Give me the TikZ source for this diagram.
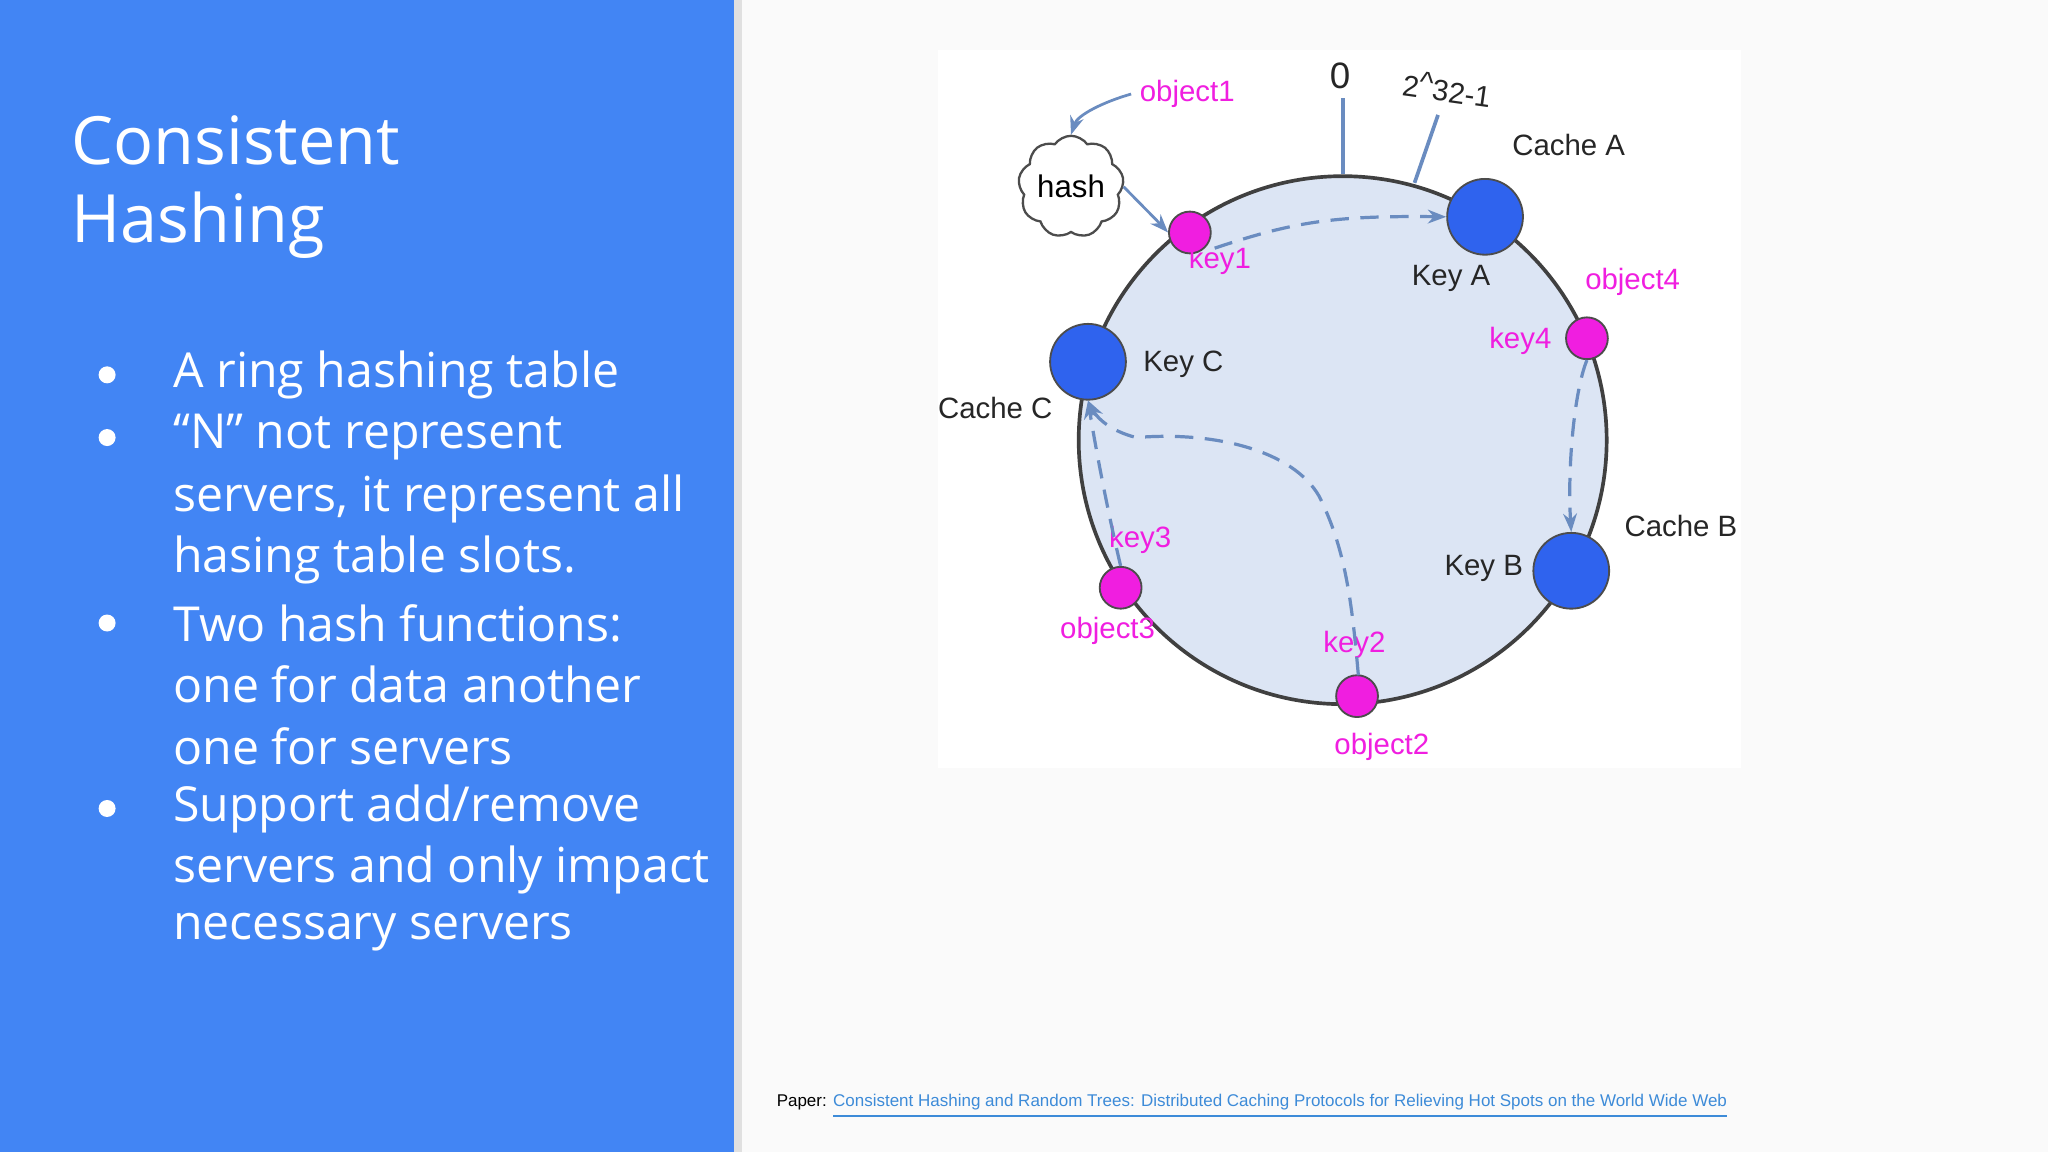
\documentclass[tikz,border=0pt]{standalone}
\usepackage{fontspec}
\setmainfont{Open Sans}
\newfontfamily\arialf{Liberation Sans}
\usetikzlibrary{shapes.symbols,arrows.meta}
\definecolor{slideblue}{HTML}{4285F4}
\definecolor{nodeblue}{HTML}{2F63EE}
\definecolor{mag}{HTML}{F01EE0}
\definecolor{ringfill}{HTML}{DCE5F4}
\definecolor{arrowc}{HTML}{6A8CC0}
\definecolor{linkc}{HTML}{3D8BD8}
\tikzset{
 cache/.style={circle,fill=nodeblue,draw=black!70,line width=0.4pt,minimum size=0.58cm,inner sep=0},
 keydot/.style={circle,fill=mag,draw=black!70,line width=0.4pt,minimum size=0.32cm,inner sep=0},
 lbl/.style={font=\arialf\fontsize{6.4}{7}\selectfont,text=black!85,inner sep=0},
 mlbl/.style={font=\arialf\fontsize{6.4}{7}\selectfont,text=mag,inner sep=0},
 dasharrow/.style={arrowc,line width=0.7pt,dash pattern=on 4pt off 2.5pt,-{Stealth[length=4pt]}},
 solidarrow/.style={arrowc,line width=0.6pt,-{Stealth[length=4pt]}},
 bullettext/.style={font=\fontsize{10.5}{13.3}\selectfont,text=white,anchor=west,inner sep=0}
}
\begin{document}
\begin{tikzpicture}[x=0.01cm,y=-0.01cm]
\useasboundingbox (0,0) rectangle (1568,882);
\fill[black!2] (0,0) rectangle (1568,882);
\fill[black!12] (562,0) rectangle (568,882);
\fill[slideblue] (0,0) rectangle (562,882);
\node[font=\fontsize{14.5}{18}\selectfont,text=white,anchor=north west,align=left,inner sep=0] (title) at (54,88) {Consistent\\[-1pt]Hashing};
\foreach \yy/\tt/\bb in {287/A ring hashing table/1,335/“N” not represent/1,382/{servers, it represent all}/0,429/hasing table slots./0,477/Two hash functions:/1,524/one for data another/0,571/one for servers/0,619/{Support add/remove}/1,666/servers and only impact/0,714/necessary servers/0}{
  \node[bullettext] at (132,\yy) {\tt};
  \ifnum\bb=1 \fill[white] (82,\yy) circle (6.5); \fi
}
% diagram area
\fill[white] (718,38) rectangle (1333,588);
\node[circle,fill=ringfill,draw=black!75,line width=0.8pt,minimum size=4.04cm,inner sep=0] (ring) at (1028,337) {};
\coordinate (t0) at (1028,75);
\draw[arrowc,line width=0.8pt] (ring.north) -- (t0);
\node[lbl,font=\arialf\fontsize{8}{9}\selectfont] (zero) at (1026,58) {0};
\coordinate (t1) at (1101,88);
\draw[arrowc,line width=0.8pt] (1083,140) -- (t1);
\node[lbl,rotate=-8] (max) at (1108,68) {2\raisebox{0.4ex}{\^{}}32-1};
\node[cache] (A) at (1137,166) {};
\node[cache] (C) at (833,277) {};
\node[cache] (B) at (1203,437) {};
\node[keydot] (k1) at (911,178) {};
\node[keydot] (k4) at (1215,259) {};
\node[keydot] (k3) at (858,450) {};
\node[keydot] (k2) at (1039,533) {};
\node[cloud,cloud puffs=9,cloud puff arc=110,aspect=1.1,draw=black!70,fill=white,line width=0.5pt,minimum width=0.8cm,minimum height=0.78cm,font=\arialf\fontsize{6.8}{8}\selectfont,inner sep=0] (hash) at (820,143) {hash};
\node[mlbl] (o1) at (909,72) {object1};
\node[lbl] at (1201,111) {Cache A};
\node[lbl] at (1111,213) {Key A};
\node[mlbl] at (1250,216) {object4};
\node[mlbl] at (1164,261) {key4};
\node[mlbl] at (934,200) {key1};
\node[lbl] at (906,279) {Key C};
\node[lbl] at (762,312) {Cache C};
\node[lbl] at (1287,403) {Cache B};
\node[lbl] at (1136,435) {Key B};
\node[mlbl] at (873,413) {key3};
\node[mlbl] at (848,483) {object3};
\node[mlbl] at (1037,494) {key2};
\node[mlbl] at (1058,572) {object2};
\draw[solidarrow] (o1.west) ++(-6,0) .. controls (845,78) and (825,88) .. (hash.north);
\draw[solidarrow] (hash.east) .. controls (872,155) and (885,168) .. (k1.west);
\draw[dasharrow] (930,190) .. controls (990,170) and (1020,165) .. (A.west);
\draw[dasharrow] (k4.south) .. controls (1205,300) and (1200,360) .. (B.north);
\draw[dasharrow] (k3.north) .. controls (850,400) and (840,350) .. (C.south);
\draw[dasharrow] (1040,517) .. controls (1035,460) and (1030,420) .. (1010,380) .. controls (990,345) and (930,330) .. (870,335) .. controls (850,330) and (840,320) .. (C.south);
% footer
\node[font=\arialf\fontsize{3.7}{4}\selectfont,anchor=west,inner sep=0] (paper) at (594,847) {Paper: \textcolor{linkc}{\underline{Consistent Hashing and Random Trees: Distributed Caching Protocols for Relieving Hot Spots on the World Wide Web}}};
\end{tikzpicture}
\end{document}
